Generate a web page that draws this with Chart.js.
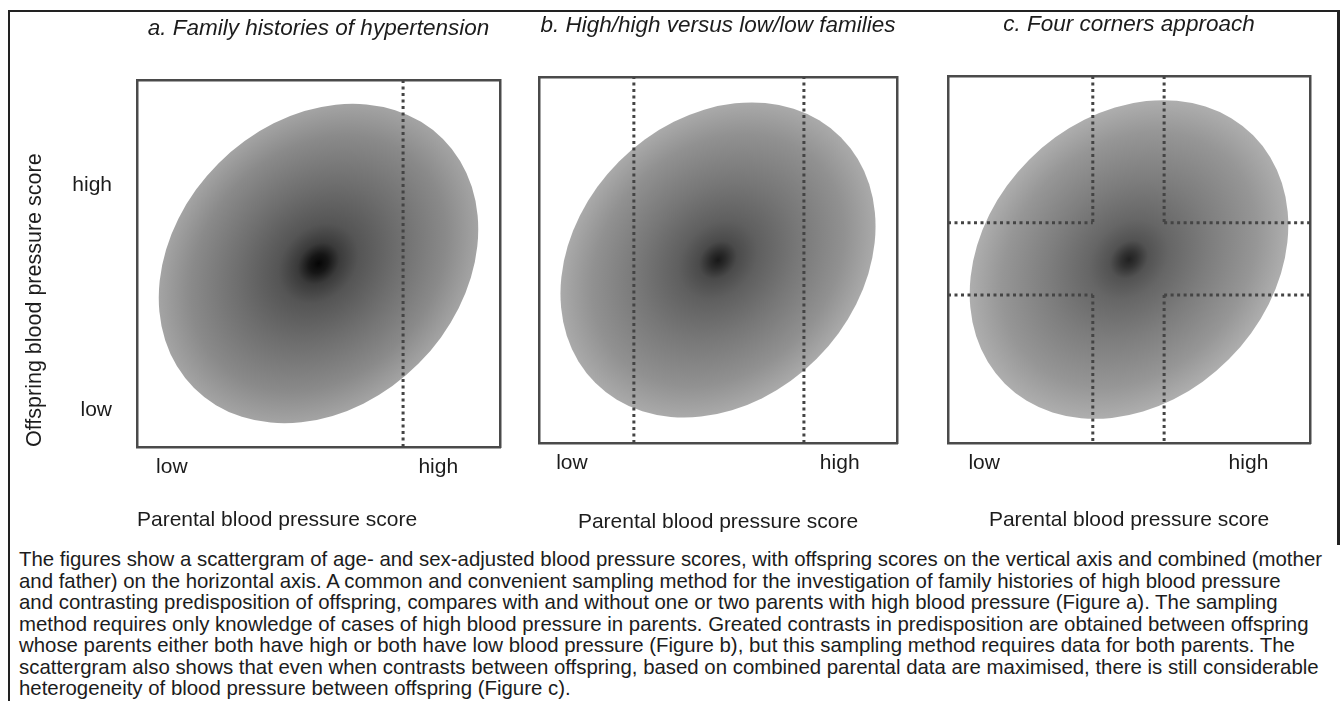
<!DOCTYPE html>
<html>
<head>
<meta charset="utf-8">
<script src="https://cdn.jsdelivr.net/npm/chart.js@4.4.1/dist/chart.umd.min.js"></script>
<style>
  body { margin: 0; background: #fff; width: 1341px; height: 701px; overflow: hidden; position: relative;
         font-family: "Liberation Sans", Arial, Helvetica, sans-serif; color: #1c1c1c; }
  #frame { position: absolute; left: 8px; top: 10px; width: 1330px; height: 700px;
           border-left: 2.5px solid #222; border-top: 2.5px solid #222; }
  #rightEdge { position: absolute; left: 1337px; top: 10px; width: 2.5px; height: 535px; background: #222; }
  canvas { position: absolute; }
  #caption { position: absolute; left: 19px; top: 549px; font-size: 20.4px; line-height: 21.5px; white-space: nowrap; }
</style>
</head>
<body>
<div id="frame"></div>
<div id="rightEdge"></div>
<canvas id="panelA" width="500" height="525" style="left:15px;top:15px"></canvas>
<canvas id="panelB" width="393" height="524" style="left:519px;top:12px"></canvas>
<canvas id="panelC" width="397" height="525" style="left:928px;top:11px"></canvas>
<div id="caption">
The figures show a scattergram of age- and sex-adjusted blood pressure scores, with offspring scores on the vertical axis and combined (mother<br>
and father) on the horizontal axis. A common and convenient sampling method for the investigation of family histories of high blood pressure<br>
and contrasting predisposition of offspring, compares with and without one or two parents with high blood pressure (Figure a). The sampling<br>
method requires only knowledge of cases of high blood pressure in parents. Greated contrasts in predisposition are obtained between offspring<br>
whose parents either both have high or both have low blood pressure (Figure b), but this sampling method requires data for both parents. The<br>
scattergram also shows that even when contrasts between offspring, based on combined parental data are maximised, there is still considerable<br>
heterogeneity of blood pressure between offspring (Figure c).
</div>
<script>
// Panel text
var panelTitles = ["a. Family histories of hypertension", "b. High/high versus low/low families", "c. Four corners approach"];
var xTitle = "Parental blood pressure score";
var yTitle = "Offspring blood pressure score";
var tickLabels = ["low", "high"];

// Tick positions on a 0-10 score scale
var xTickValues = [[0.96, 8.3], [0.92, 8.4], [1.0, 8.3]];
var yTickValues = [1.0, 7.14];

// Sampling cut-offs (dashed lines)
var cutsX = [[7.33], [2.65, 7.4], [4.0, 5.97]];
var cutsY = [[], [], [4.03, 6.0]];

// Scattergram density ellipse
var ellipseCenter = [5, 5];
var ellipseAxes = [4.85, 3.9];
var ellipseAngle = 45;

var FONT = '"Liberation Sans", Arial, Helvetica, sans-serif';
var INK = "#1c1c1c";
var BOX = { display: true, color: "#4a4a4a", width: 2.5 };

// shading for each panel's density cloud
var shades = [
  [[0, "#050505"], [0.06, "#161616"], [0.13, "#3a3a3a"], [0.25, "#555"], [0.5, "#6e6e6e"], [0.8, "#8a8a8a"], [1, "#a4a4a4"]],
  [[0, "#181818"], [0.05, "#2a2a2a"], [0.12, "#4a4a4a"], [0.25, "#5f5f5f"], [0.5, "#777"], [0.8, "#919191"], [1, "#aaaaaa"]],
  [[0, "#202020"], [0.05, "#313131"], [0.12, "#525252"], [0.25, "#666"], [0.5, "#7d7d7d"], [0.8, "#969696"], [1, "#aeaeae"]]
];

// draws the shaded ellipse under the dashed lines
var ellipsePlugin = {
  id: "ellipse",
  beforeDatasetsDraw: function (chart, args, opts) {
    var ctx = chart.ctx;
    var x = chart.scales.x, y = chart.scales.y;
    var cx = x.getPixelForValue(ellipseCenter[0]);
    var cy = y.getPixelForValue(ellipseCenter[1]);
    var ra = Math.abs(x.getPixelForValue(ellipseCenter[0] + ellipseAxes[0]) - cx);
    var rb = Math.abs(x.getPixelForValue(ellipseCenter[0] + ellipseAxes[1]) - cx);
    ctx.save();
    ctx.translate(cx, cy);
    ctx.rotate(-ellipseAngle * Math.PI / 180);
    ctx.scale(1, rb / ra);
    var g = ctx.createRadialGradient(0, 0, 0, 0, 0, ra);
    opts.stops.forEach(function (s) { g.addColorStop(s[0], s[1]); });
    ctx.fillStyle = g;
    ctx.beginPath();
    ctx.arc(0, 0, ra, 0, 2 * Math.PI);
    ctx.fill();
    ctx.restore();
  }
};

// dashed cut lines; with cuts on both axes the middle square is left open
function cutSegments(xs, ys) {
  var segs = [];
  xs.forEach(function (cx) {
    if (ys.length) {
      segs.push([{ x: cx, y: 10 }, { x: cx, y: ys[ys.length - 1] }]);
      segs.push([{ x: cx, y: ys[0] }, { x: cx, y: 0 }]);
    } else {
      segs.push([{ x: cx, y: 0 }, { x: cx, y: 10 }]);
    }
  });
  ys.forEach(function (cy) {
    segs.push([{ x: 0, y: cy }, { x: xs[0], y: cy }]);
    segs.push([{ x: xs[xs.length - 1], y: cy }, { x: 10, y: cy }]);
  });
  return segs;
}

function makePanel(canvasId, i) {
  var first = i === 0;
  var datasets = cutSegments(cutsX[i], cutsY[i]).map(function (seg) {
    return {
      data: seg,
      showLine: true,
      borderColor: "#444",
      borderWidth: 3,
      borderDash: [3, 3.5],
      pointRadius: 0
    };
  });

  new Chart(document.getElementById(canvasId), {
    type: "scatter",
    data: { datasets: datasets },
    options: {
      responsive: false,
      animation: false,
      events: [],
      layout: { padding: { left: 0, right: 15, top: 0, bottom: 0 } },
      plugins: {
        legend: { display: false },
        tooltip: { enabled: false },
        title: {
          display: true,
          text: panelTitles[i],
          fullSize: false,
          color: INK,
          font: { family: FONT, size: 22.5, style: "italic", weight: "normal" },
          padding: { top: 0, bottom: 38 }
        },
        ellipse: { stops: shades[i] }
      },
      scales: {
        x: {
          type: "linear", position: "bottom", min: 0, max: 10,
          afterBuildTicks: function (s) { s.ticks = xTickValues[i].map(function (v) { return { value: v }; }); },
          afterFit: function (s) { s.height = 93; },
          ticks: {
            autoSkip: false, maxRotation: 0, padding: 8, color: INK,
            font: { family: FONT, size: 21 },
            callback: function (v, idx) { return tickLabels[idx]; }
          },
          grid: { display: false, drawTicks: false },
          border: BOX,
          title: {
            display: true, text: xTitle, color: INK, align: first ? "start" : "center",
            font: { family: FONT, size: 21 },
            padding: { top: 0, bottom: [7, 1, 3][i] }
          }
        },
        y: {
          type: "linear", position: "left", min: 0, max: 10,
          afterBuildTicks: function (s) { s.ticks = yTickValues.map(function (v) { return { value: v }; }); },
          afterFit: function (s) { s.width = first ? 122 : 20; },
          ticks: {
            display: first, padding: 25, color: INK,
            font: { family: FONT, size: 21 },
            callback: function (v, idx) { return tickLabels[idx]; }
          },
          grid: { display: false, drawTicks: false },
          border: BOX,
          title: {
            display: first, text: yTitle, color: INK, align: "start",
            font: { family: FONT, size: 21.5 },
            padding: { top: 7, bottom: 0 }
          }
        },
        top: {
          type: "linear", position: "top", min: 0, max: 10,
          afterFit: function (s) { s.height = 0; },
          ticks: { display: false },
          grid: { display: false, drawTicks: false },
          border: BOX
        },
        right: {
          type: "linear", position: "right", min: 0, max: 10,
          afterFit: function (s) { s.width = 0; },
          ticks: { display: false },
          grid: { display: false, drawTicks: false },
          border: BOX
        }
      }
    },
    plugins: [ellipsePlugin]
  });
}

makePanel("panelA", 0);
makePanel("panelB", 1);
makePanel("panelC", 2);
</script>
</body>
</html>
